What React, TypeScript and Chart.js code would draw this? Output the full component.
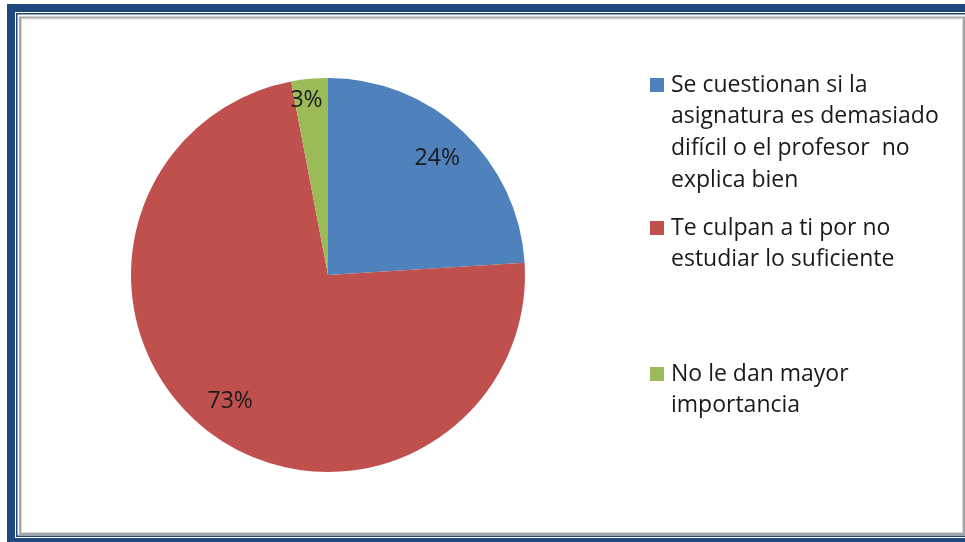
import React, { useEffect, useRef } from "react";
import { Chart, registerables } from "chart.js";

Chart.register(...registerables);

const categories: string[][] = [
  ["Se cuestionan si la", "asignatura es demasiado", "difícil o el profesor  no", "explica bien"],
  ["Te culpan a ti por no", "estudiar lo suficiente"],
  ["No le dan mayor", "importancia"],
];
const values: number[] = [24, 73, 3];
const colors: string[] = ["#4F81BD", "#C0504D", "#9BBB59"];
const legendRowY: number[] = [85, 228, 374];

const FONT = '"Open Sans", "Liberation Sans", sans-serif';

const framePlugin = {
  id: "frame",
  beforeDraw(chart: any) {
    const ctx = chart.ctx;
    const W = chart.width;
    const H = chart.height;
    ctx.save();
    ctx.fillStyle = "#ffffff";
    ctx.fillRect(0, 0, W, H);
    ctx.fillStyle = "#1F497D";
    ctx.fillRect(7, 4, W - 7, 8);
    ctx.fillRect(7, 4, 8, H - 4);
    ctx.fillRect(7, 538, W - 7, 4);
    ctx.fillRect(16, 13, W - 16, 1.5);
    ctx.fillRect(16, 13, 1.5, 523);
    ctx.fillRect(16, 535.5, W - 16, 1.5);
    ctx.strokeStyle = "#A6A6A6";
    ctx.lineWidth = 2;
    ctx.strokeRect(20, 17.5, W - 21, 516.5);
    ctx.strokeStyle = "#D9D9D9";
    ctx.lineWidth = 1;
    ctx.strokeRect(21.5, 19, W - 24, 513.5);
    ctx.restore();
  },
};

const labelPlugin = {
  id: "sliceLabels",
  afterDatasetsDraw(chart: any) {
    const ctx = chart.ctx;
    const meta = chart.getDatasetMeta(0);
    const data = chart.data.datasets[0].data as number[];
    const total = data.reduce((a: number, b: number) => a + b, 0);
    ctx.save();
    ctx.font = `23px ${FONT}`;
    ctx.fillStyle = "#1a1a1a";
    ctx.textAlign = "center";
    ctx.textBaseline = "middle";
    meta.data.forEach((arc: any, i: number) => {
      const p = arc.getProps(["x", "y", "startAngle", "endAngle", "outerRadius"], true);
      const mid = (p.startAngle + p.endAngle) / 2;
      const pct = (data[i] / total) * 100;
      const f = pct < 5 ? 0.89 : 0.81;
      const x = p.x + Math.cos(mid) * p.outerRadius * f - (pct < 5 ? 5 : 0);
      const y = p.y + Math.sin(mid) * p.outerRadius * f;
      ctx.fillText(`${Math.round(pct)}%`, x, y);
    });
    ctx.restore();
  },
};

const legendPlugin = {
  id: "customLegend",
  afterDraw(chart: any) {
    const ctx = chart.ctx;
    const labels = chart.data.labels as string[][];
    const bg = chart.data.datasets[0].backgroundColor as string[];
    ctx.save();
    ctx.font = `23px ${FONT}`;
    ctx.textBaseline = "middle";
    ctx.textAlign = "left";
    labels.forEach((lines, i) => {
      const y0 = legendRowY[i];
      ctx.fillStyle = bg[i];
      ctx.fillRect(650, y0 - 7, 14, 14);
      ctx.fillStyle = "#1a1a1a";
      lines.forEach((line, j) => {
        ctx.fillText(line, 671, y0 + j * 31.7);
      });
    });
    ctx.restore();
  },
};

export default function App() {
  const ref = useRef<HTMLCanvasElement | null>(null);
  useEffect(() => {
    if (!ref.current) return;
    const chart = new Chart(ref.current, {
      type: "pie",
      data: {
        labels: categories as any,
        datasets: [
          {
            data: values,
            backgroundColor: colors,
            borderWidth: 0,
          },
        ],
      },
      options: {
        animation: false,
        responsive: false,
        events: [],
        layout: { padding: { left: 131, right: 440, top: 78, bottom: 70 } },
        plugins: {
          legend: { display: false },
          tooltip: { enabled: false },
        },
      },
      plugins: [framePlugin, labelPlugin, legendPlugin],
    });
    return () => chart.destroy();
  }, []);
  return (
    <div style={{ position: "fixed", left: 0, top: 0, width: 965, height: 542, background: "#fff" }}>
      <canvas ref={ref} width={965} height={542} style={{ display: "block", width: 965, height: 542 }} />
    </div>
  );
}
